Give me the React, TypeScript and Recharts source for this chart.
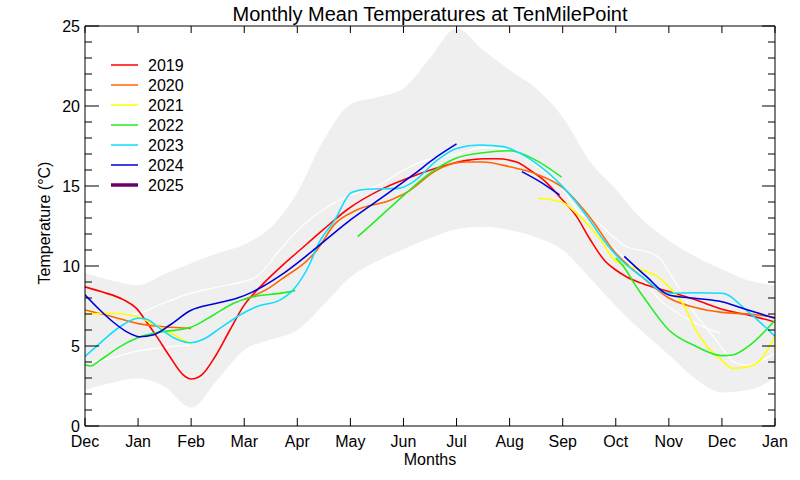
import React from 'react';
import { ComposedChart, Line, Area, XAxis, YAxis, Legend, Label } from 'recharts';

// month ticks, Dec .. Jan
const monthLabels = ['Dec', 'Jan', 'Feb', 'Mar', 'Apr', 'May', 'Jun', 'Jul', 'Aug', 'Sep', 'Oct', 'Nov', 'Dec', 'Jan'];
const monthTicks = monthLabels.map((_, i) => i);
const tempTicks = Array.from({ length: 26 }, (_, i) => i);

// min / max envelope
const bandX = [0, 0.5, 1, 1.5, 2, 2.5, 3, 3.5, 4, 4.5, 5, 5.5, 6, 6.5, 7, 7.5, 8, 8.5, 9, 9.5, 10, 10.5, 11, 11.5, 12, 12.5, 13];
const bandLow = [2.25, 2.7, 2.98, 2.45, 1.15, 2.9, 4.75, 5.4, 6.0, 7.6, 9.3, 10.3, 11.05, 11.75, 12.3, 12.45, 12.25, 11.8, 11.0, 9.3, 7.5, 5.9, 4.45, 2.95, 2.1, 2.25, 3.0];
const bandHigh = [9.54, 9.1, 8.8, 9.5, 10.17, 10.8, 11.35, 12.4, 14.6, 17.9, 20.1, 20.55, 21.1, 23.0, 24.85, 23.5, 22.25, 21.1, 19.3, 16.6, 14.8, 12.9, 11.6, 10.6, 9.8, 9.1, 8.8];

// white reference lines
const w1X = [0.9, 1.0, 1.47, 1.98, 2.48, 2.98, 3.23, 3.42, 3.67, 4.3, 4.93, 5.5, 6.0, 6.44, 7.0, 7.5, 8.0, 8.5, 9.0, 9.33, 9.64, 9.95, 10.2, 10.58, 10.83, 11.02, 11.21, 11.4, 11.59, 11.84, 12.03, 12.21, 12.47, 12.78, 13];
const w1T = [7.0, 7.04, 7.67, 8.29, 8.67, 9.02, 9.33, 9.96, 11.0, 13.08, 14.33, 15.0, 16.0, 16.63, 17.0, 17.4, 17.3, 16.3, 14.8, 13.3, 12.77, 11.83, 11.2, 10.9, 10.48, 9.54, 8.5, 7.46, 6.6, 5.58, 4.75, 4.02, 3.81, 4.13, 4.54];
const w2X = [0, 0.47, 1.0, 1.98];
const w2T = [3.95, 4.23, 4.69, 5.06];
const w3X = [9.83, 10.2, 10.83, 11.4, 11.96];
const w3T = [11.5, 10.4, 7.9, 6.6, 5.8];

const years = ['2019', '2020', '2021', '2022', '2023', '2024', '2025'];
const yearColors = ['#ff0000', '#ff6600', '#ffff00', '#22ee22', '#11ddff', '#0000dd', '#6b006b'];

const x2019 = [0, 0.3, 0.72, 0.97, 1.16, 1.35, 1.6, 1.85, 2.0, 2.2, 2.45, 2.73, 2.98, 3.36, 3.74, 4.05, 4.5, 4.93, 5.62, 6.25, 6.8, 7.19, 7.5, 7.75, 8.13, 8.38, 8.7, 8.95, 9.26, 9.51, 9.8, 10.0, 10.2, 10.5, 11.0, 11.49, 12.0, 12.49, 13.0];
const t2019 = [8.7, 8.4, 7.9, 7.35, 6.5, 5.6, 4.33, 3.2, 2.94, 3.2, 4.33, 6.0, 7.46, 8.9, 10.1, 11.0, 12.3, 13.5, 14.85, 15.7, 16.3, 16.6, 16.7, 16.7, 16.5, 16.0, 15.2, 14.3, 13.1, 11.7, 10.3, 9.75, 9.33, 8.9, 8.4, 7.9, 7.3, 6.94, 6.5];

const x2020 = [0, 0.5, 1, 1.5, 2, 2.5, 3.0, 3.5, 3.67, 4.37, 4.7, 5.12, 5.74, 6.06, 6.63, 7.0, 7.19, 7.5, 8.0, 8.5, 9.0, 9.5, 10.0, 10.5, 11.0, 11.5, 12.0, 12.5, 13.0];
const t2020 = [7.25, 6.85, 6.4, 6.2, 6.1, null, 7.9, 8.7, 9.1, 11.0, 12.6, 13.5, 14.1, 14.6, 16.0, 16.45, 16.5, 16.5, 16.2, 15.75, 14.9, 13.1, 10.8, 9.3, 8.0, 7.4, 7.1, 7.0, 6.8];

const x2021 = [0, 0.5, 1, 1.5, 2, 5, 8.53, 9.01, 9.26, 9.7, 10.0, 10.49, 10.76, 11.0, 11.3, 11.49, 12.0, 12.2, 12.49, 12.72, 13.0];
const t2021 = [7.0, 7.05, 6.8, 6.0, 5.1, null, 14.23, 13.96, 13.3, 11.7, 10.3, 9.75, 9.4, 8.7, 7.45, 6.1, 4.1, 3.6, 3.7, 4.1, 5.6];

const x2022 = [0, 0.1, 0.28, 0.66, 0.97, 1.35, 1.98, 2.42, 2.8, 3.17, 3.67, 3.96, 4.5, 5.14, 5.5, 6.0, 6.5, 7.0, 7.5, 8.0, 8.5, 8.98, 9.5, 10.0, 10.15, 10.35, 10.6, 11.0, 11.5, 12.0, 12.2, 12.49, 13.0];
const t2022 = [3.82, 3.75, 4.1, 4.96, 5.48, 5.83, 6.15, 6.94, 7.67, 8.08, 8.29, 8.46, null, 11.83, 12.9, 14.4, 15.8, 16.75, 17.08, 17.2, 16.6, 15.55, null, 10.5, 9.96, 8.9, 7.7, 6.0, 5.0, 4.4, 4.44, 4.96, 6.6];

const x2023 = [0, 0.28, 0.66, 1.0, 1.16, 1.41, 1.73, 1.98, 2.23, 2.54, 2.92, 3.23, 3.67, 3.92, 4.24, 4.37, 4.71, 5.02, 5.31, 5.9, 6.19, 6.63, 7.0, 7.44, 7.88, 8.2, 8.5, 9.0, 9.5, 9.7, 10.0, 10.49, 11.0, 11.49, 12.0, 12.49, 13.0];
const t2023 = [4.35, 5.17, 6.2, 6.73, 6.67, 6.1, 5.42, 5.2, 5.42, 6.1, 6.94, 7.46, 7.87, 8.5, 10.17, 11.2, 12.9, 14.6, 14.8, 14.85, 15.27, 16.6, 17.35, 17.56, 17.46, 17.04, 16.42, 14.96, 12.9, 11.94, 10.7, 9.33, 8.3, 8.33, 8.3, 7.15, 5.6];

const x2024 = [0, 0.28, 0.53, 0.78, 1.03, 1.28, 1.6, 1.98, 2.48, 2.86, 3.17, 3.67, 4.27, 4.93, 5.56, 6.18, 6.63, 7.0, 7.6, 8.23, 8.57, 8.94, 9.5, 10.16, 10.58, 11.0, 11.49, 12.0, 12.49, 13.0];
const t2024 = [8.2, 7.25, 6.5, 5.9, 5.58, 5.69, 6.31, 7.2, 7.67, 7.98, 8.4, 9.38, 10.9, 12.7, 14.2, 15.69, 16.83, 17.63, null, 15.9, 15.27, 14.44, null, 10.6, 9.33, 8.19, 7.98, 7.77, 7.25, 6.73];

const x2025: number[] = [];
const t2025: number[] = [];

const toPoints = (xs: number[], ts: (number | null)[]) => xs.map((m, i) => ({ m, t: ts[i] }));

const bandData = bandX.map((m, i) => ({ m, range: [bandLow[i], bandHigh[i]] }));
const whiteLines = [toPoints(w1X, w1T), toPoints(w2X, w2T), toPoints(w3X, w3T)];
const yearData = [
  toPoints(x2019, t2019),
  toPoints(x2020, t2020),
  toPoints(x2021, t2021),
  toPoints(x2022, t2022),
  toPoints(x2023, t2023),
  toPoints(x2024, t2024),
  toPoints(x2025, t2025),
];

const FONT = '"Liberation Sans", Arial, Helvetica, sans-serif';

const BottomTick = ({ x, y, payload }: any) => (
  <g>
    <line x1={x} y1={y} x2={x} y2={y - 8} stroke="#000" />
    <text x={x} y={y + 21} textAnchor="middle" fontSize={16} fill="#000" fontFamily={FONT}>
      {monthLabels[payload.value]}
    </text>
  </g>
);

const TopTick = ({ x, y }: any) => <line x1={x} y1={y} x2={x} y2={y + 7} stroke="#000" />;

const LeftTick = ({ x, y, payload }: any) => {
  const major = payload.value % 5 === 0;
  return (
    <g>
      <line x1={x} y1={y} x2={x + (major ? 14 : 7)} y2={y} stroke="#000" />
      {major && (
        <text x={x - 5} y={y + 5.5} textAnchor="end" fontSize={16} fill="#000" fontFamily={FONT}>
          {payload.value}
        </text>
      )}
    </g>
  );
};

const RightTick = ({ x, y, payload }: any) => {
  const major = payload.value % 5 === 0;
  return <line x1={x} y1={y} x2={x - (major ? 13 : 7)} y2={y} stroke="#000" />;
};

const LegendBox = () => (
  <svg width={100} height={150}>
    {years.map((yr, i) => (
      <g key={yr}>
        <line x1={6} x2={33} y1={10 + i * 20} y2={10 + i * 20} stroke={yearColors[i]} strokeWidth={yr === '2025' ? 3.5 : 1.5} />
        <text x={43} y={16 + i * 20} fontSize={16} fill="#000" fontFamily={FONT}>
          {yr}
        </text>
      </g>
    ))}
  </svg>
);

export default function App() {
  return (
    <div style={{ position: 'absolute', left: 0, top: 0, background: '#fff' }}>
      <ComposedChart width={800} height={480} margin={{ top: 25, right: 24, bottom: 24, left: 40 }}>
        <XAxis
          xAxisId="b"
          dataKey="m"
          type="number"
          domain={[0, 13]}
          ticks={monthTicks}
          interval={0}
          allowDataOverflow
          height={30}
          tickSize={0}
          tickMargin={0}
          tickLine={false}
          axisLine={{ stroke: '#000' }}
          tick={<BottomTick />}
        >
          <Label
            content={() => (
              <text x={430} y={465} textAnchor="middle" fontSize={16} fill="#000" fontFamily={FONT}>
                Months
              </text>
            )}
          />
        </XAxis>
        <XAxis
          xAxisId="t"
          orientation="top"
          dataKey="m"
          type="number"
          domain={[0, 13]}
          ticks={monthTicks}
          interval={0}
          allowDataOverflow
          height={1}
          tickSize={0}
          tickMargin={0}
          tickLine={false}
          axisLine={{ stroke: '#000' }}
          tick={<TopTick />}
        >
          <Label
            content={() => (
              <text x={430} y={21} textAnchor="middle" fontSize={20} fill="#000" fontFamily={FONT}>
                Monthly Mean Temperatures at TenMilePoint
              </text>
            )}
          />
        </XAxis>
        <YAxis
          yAxisId="l"
          type="number"
          domain={[0, 25]}
          ticks={tempTicks}
          interval={0}
          allowDataOverflow
          width={45}
          tickSize={0}
          tickMargin={0}
          tickLine={false}
          axisLine={{ stroke: '#000' }}
          tick={<LeftTick />}
        >
          <Label
            content={() => (
              <text
                x={50}
                y={223}
                transform="rotate(-90 50 223)"
                textAnchor="middle"
                fontSize={16}
                fill="#000"
                fontFamily={FONT}
              >
                Temperature (°C)
              </text>
            )}
          />
        </YAxis>
        <YAxis
          yAxisId="r"
          orientation="right"
          type="number"
          domain={[0, 25]}
          ticks={tempTicks}
          interval={0}
          allowDataOverflow
          width={1}
          tickSize={0}
          tickMargin={0}
          tickLine={false}
          axisLine={{ stroke: '#000' }}
          tick={<RightTick />}
        />
        <Area
          xAxisId="t"
          yAxisId="r"
          data={bandData}
          dataKey="range"
          type="monotone"
          fill="#efefef"
          fillOpacity={1}
          stroke="none"
          isAnimationActive={false}
          legendType="none"
        />
        {whiteLines.map((d, i) => (
          <Line
            key={`w${i}`}
            xAxisId="b"
            yAxisId="l"
            data={d}
            dataKey="t"
            type="monotone"
            stroke="#ffffff"
            strokeWidth={1.2}
            dot={false}
            isAnimationActive={false}
            legendType="none"
          />
        ))}
        {yearData.map((d, i) => (
          <Line
            key={years[i]}
            name={years[i]}
            xAxisId="b"
            yAxisId="l"
            data={d}
            dataKey="t"
            type="monotone"
            stroke={yearColors[i]}
            strokeWidth={years[i] === '2025' ? 3.5 : 1.6}
            dot={false}
            connectNulls={false}
            isAnimationActive={false}
          />
        ))}
        <Legend
          layout="vertical"
          align="center"
          verticalAlign="middle"
          content={<LegendBox />}
          wrapperStyle={{ left: 105, top: 55, width: 100, height: 150 }}
        />
      </ComposedChart>
    </div>
  );
}
